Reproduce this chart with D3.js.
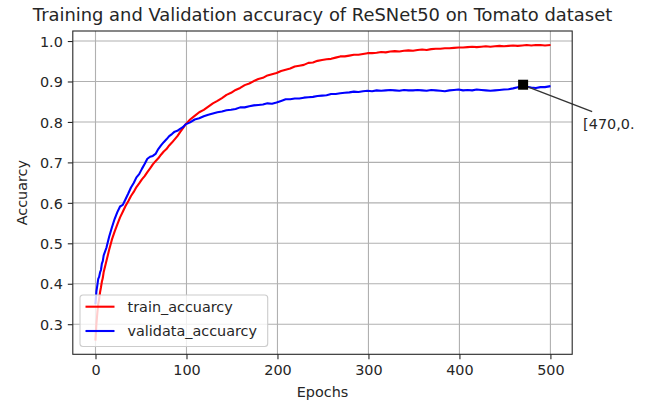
<!DOCTYPE html>
<html>
<head>
<meta charset="utf-8">
<script src="https://cdn.jsdelivr.net/npm/d3@7"></script>
<style>
  html, body { margin: 0; padding: 0; background: #ffffff; }
  svg { display: block; }
</style>
</head>
<body>
<svg class="chart"></svg>
<script>
const FONT_FAMILY = "DejaVu Sans";
const TICK_FONT_SIZE = "14.4px";
const TITLE_FONT_SIZE = "17.9px";
const TEXT_COLOR = "#262626";
const WIDTH = 649;
const HEIGHT = 401;
const AXES_LEFT = 72.8;
const AXES_RIGHT = 572.2;
const AXES_TOP = 31;
const AXES_BOTTOM = 354.3;
const TICK_LENGTH = 5;
const TICK_PAD = 5;

var epochs = [0, 1, 2, 3, 4, 5, 6, 7, 8, 9,
  12, 15, 18, 21, 24, 27, 30, 33, 36, 39, 42, 45, 48, 51, 54, 57, 60, 63, 66, 69,
  72, 75, 78, 81, 84, 87, 90, 93, 96, 99,
  104, 109, 114, 119, 124, 129, 134, 139, 144, 149, 154, 159, 164, 169, 174, 179,
  184, 189, 194, 199, 204, 209, 214, 219, 224, 229, 234, 239, 244, 249, 254, 259,
  264, 269, 274, 279, 284, 289, 294, 299, 304, 309, 314, 319, 324, 329, 334, 339,
  344, 349, 354, 359, 364, 369, 374, 379, 384, 389, 394, 399, 404, 409, 414, 419,
  424, 429, 434, 439, 444, 449, 454, 459, 464, 469, 474, 479, 484, 489, 494, 499];

var trainAccuarcy = [0.262, 0.301, 0.327, 0.350, 0.362, 0.379, 0.391, 0.405, 0.414, 0.429,
  0.456, 0.484, 0.509, 0.529, 0.547, 0.564, 0.578, 0.592, 0.604, 0.617, 0.627, 0.639, 0.648, 0.658, 0.666, 0.676, 0.685, 0.695, 0.703, 0.710,
  0.719, 0.727, 0.733, 0.742, 0.749, 0.757, 0.765, 0.775, 0.784, 0.794,
  0.806, 0.815, 0.824, 0.830, 0.838, 0.846, 0.852, 0.859, 0.867, 0.872, 0.879, 0.884, 0.891, 0.895, 0.901, 0.906,
  0.909, 0.915, 0.918, 0.921, 0.926, 0.929, 0.932, 0.937, 0.939, 0.941, 0.946, 0.947, 0.951, 0.953, 0.955, 0.956,
  0.959, 0.962, 0.962, 0.964, 0.966, 0.966, 0.968, 0.970, 0.970, 0.971, 0.973, 0.972, 0.974, 0.975, 0.974, 0.976,
  0.977, 0.976, 0.978, 0.979, 0.978, 0.980, 0.981, 0.981, 0.982, 0.982, 0.983, 0.984, 0.984, 0.985, 0.986, 0.985,
  0.986, 0.987, 0.986, 0.987, 0.988, 0.987, 0.988, 0.989, 0.988, 0.989, 0.990, 0.989, 0.990, 0.990, 0.989, 0.990];

var validataAccuarcy = [0.352, 0.381, 0.396, 0.412, 0.417, 0.428, 0.434, 0.450, 0.456, 0.470,
  0.489, 0.516, 0.539, 0.560, 0.577, 0.591, 0.595, 0.609, 0.623, 0.638, 0.649, 0.663, 0.671, 0.684, 0.696, 0.709, 0.714, 0.716, 0.721, 0.733,
  0.742, 0.750, 0.757, 0.765, 0.770, 0.776, 0.778, 0.783, 0.787, 0.794,
  0.799, 0.806, 0.809, 0.814, 0.818, 0.821, 0.824, 0.826, 0.829, 0.830, 0.832, 0.836, 0.836, 0.839, 0.841, 0.842,
  0.843, 0.846, 0.845, 0.848, 0.852, 0.856, 0.856, 0.858, 0.858, 0.860, 0.861, 0.862, 0.864, 0.865, 0.866, 0.869,
  0.869, 0.871, 0.872, 0.873, 0.875, 0.874, 0.876, 0.877, 0.876, 0.878, 0.877, 0.878, 0.879, 0.878, 0.877, 0.879,
  0.878, 0.878, 0.879, 0.878, 0.877, 0.879, 0.878, 0.877, 0.876, 0.878, 0.879, 0.880, 0.878, 0.879, 0.878, 0.880,
  0.879, 0.878, 0.877, 0.878, 0.879, 0.880, 0.881, 0.883, 0.886, 0.890, 0.887, 0.885, 0.884, 0.886, 0.886, 0.888];

var xTicks = [0, 100, 200, 300, 400, 500];
var yTicks = [0.3, 0.4, 0.5, 0.6, 0.7, 0.8, 0.9, 1.0];

var seriesNames = ["train_accuarcy", "validata_accuarcy"];
var seriesColors = ["#ff0000", "#0000ff"];

var markedEpoch = 470;
var markedValue = 0.892;
var markedLabel = "[470,0.";

var titleText = "Training and Validation accuracy of ReSNet50 on Tomato dataset";

function drawChart() {
  var chart = d3.select(".chart").attr("width", WIDTH).attr("height", HEIGHT);
  chart.append("rect").attr("width", WIDTH).attr("height", HEIGHT).attr("fill", "#ffffff");

  // matplotlib style 5% margins
  var x = d3.scaleLinear().domain([-24.95, 523.95]).range([AXES_LEFT, AXES_RIGHT]);
  var y = d3.scaleLinear().domain([0.2256, 1.0248]).range([AXES_BOTTOM, AXES_TOP]);

  // Grid
  var grid = chart.append("g");
  grid.selectAll(".vgrid").data(xTicks).enter().append("line")
      .attr("x1", function(d) { return x(d); })
      .attr("x2", function(d) { return x(d); })
      .attr("y1", AXES_TOP).attr("y2", AXES_BOTTOM)
      .attr("stroke", "#b0b0b0").attr("stroke-width", 1.1);
  grid.selectAll(".hgrid").data(yTicks).enter().append("line")
      .attr("x1", AXES_LEFT).attr("x2", AXES_RIGHT)
      .attr("y1", function(d) { return y(d); })
      .attr("y2", function(d) { return y(d); })
      .attr("stroke", "#b0b0b0").attr("stroke-width", 1.1);

  // Lines
  var rows = epochs.map(function(e, i) {
    return { epoch: e, train: trainAccuarcy[i], valid: validataAccuarcy[i] };
  });
  var keys = ["train", "valid"];
  keys.forEach(function(k, i) {
    var line = d3.line()
        .x(function(d) { return x(d.epoch); })
        .y(function(d) { return y(d[k]); });
    chart.append("path")
        .datum(rows)
        .attr("d", line)
        .attr("fill", "none")
        .attr("stroke", seriesColors[i])
        .attr("stroke-width", 2.1)
        .attr("stroke-linejoin", "round")
        .attr("stroke-linecap", "square");
  });

  // Annotation marker + arrow
  var mx = x(markedEpoch), my = y(markedValue);
  chart.append("line")
      .attr("x1", mx + 4).attr("y1", my + 2)
      .attr("x2", mx + 69).attr("y2", my + 27)
      .attr("stroke", "#333333").attr("stroke-width", 1.3);
  chart.append("rect")
      .attr("x", mx - 5).attr("y", my - 5)
      .attr("width", 10).attr("height", 10)
      .attr("fill", "#000000");
  chart.append("text")
      .attr("x", mx + 60).attr("y", my + 44)
      .attr("font-family", FONT_FAMILY).attr("font-size", TICK_FONT_SIZE)
      .attr("fill", TEXT_COLOR)
      .text(markedLabel);

  // Spines
  chart.append("rect")
      .attr("x", AXES_LEFT).attr("y", AXES_TOP)
      .attr("width", AXES_RIGHT - AXES_LEFT).attr("height", AXES_BOTTOM - AXES_TOP)
      .attr("fill", "none").attr("stroke", "#262626").attr("stroke-width", 1.1);

  // X axis
  var xAxis = d3.axisBottom(x).tickValues(xTicks).tickSize(TICK_LENGTH).tickPadding(TICK_PAD)
      .tickFormat(d3.format("d"));
  var gx = chart.append("g").attr("transform", "translate(0," + AXES_BOTTOM + ")").call(xAxis);
  gx.select(".domain").remove();
  gx.selectAll("line").attr("stroke", "#262626").attr("stroke-width", 1.1);
  gx.selectAll("text").attr("font-family", FONT_FAMILY).attr("font-size", TICK_FONT_SIZE)
      .attr("fill", TEXT_COLOR).attr("dy", "0.76em");

  // Y axis
  var yAxis = d3.axisLeft(y).tickValues(yTicks).tickSize(TICK_LENGTH).tickPadding(TICK_PAD)
      .tickFormat(d3.format(".1f"));
  var gy = chart.append("g").attr("transform", "translate(" + AXES_LEFT + ",0)").call(yAxis);
  gy.select(".domain").remove();
  gy.selectAll("line").attr("stroke", "#262626").attr("stroke-width", 1.1);
  gy.selectAll("text").attr("font-family", FONT_FAMILY).attr("font-size", TICK_FONT_SIZE)
      .attr("fill", TEXT_COLOR).attr("dy", "0.36em");

  // Labels
  var cx = (AXES_LEFT + AXES_RIGHT) / 2;
  chart.append("text")
      .attr("x", cx).attr("y", 396.5)
      .attr("text-anchor", "middle")
      .attr("font-family", FONT_FAMILY).attr("font-size", TICK_FONT_SIZE)
      .attr("fill", TEXT_COLOR)
      .text("Epochs");
  chart.append("text")
      .attr("transform", "translate(27," + ((AXES_TOP + AXES_BOTTOM) / 2) + ") rotate(-90)")
      .attr("text-anchor", "middle")
      .attr("font-family", FONT_FAMILY).attr("font-size", TICK_FONT_SIZE)
      .attr("fill", TEXT_COLOR)
      .text("Accuarcy");
  chart.append("text")
      .attr("x", cx).attr("y", 20.7)
      .attr("text-anchor", "middle")
      .attr("font-family", FONT_FAMILY).attr("font-size", TITLE_FONT_SIZE)
      .attr("fill", TEXT_COLOR)
      .text(titleText);

  // Legend (lower left)
  var legend = chart.append("g").attr("transform", "translate(80,295)");
  legend.append("rect")
      .attr("width", 187.7).attr("height", 51.5)
      .attr("rx", 3).attr("ry", 3)
      .attr("fill", "#ffffff").attr("fill-opacity", 0.8)
      .attr("stroke", "#cccccc").attr("stroke-width", 1.1);
  var item = legend.selectAll(".item").data(seriesNames).enter().append("g")
      .attr("transform", function(d, i) { return "translate(0," + (11.7 + i * 24.3) + ")"; });
  item.append("line")
      .attr("x1", 5.5).attr("x2", 34.5)
      .attr("stroke", function(d, i) { return seriesColors[i]; })
      .attr("stroke-width", 2.1);
  item.append("text")
      .attr("x", 47.5).attr("dy", "0.36em")
      .attr("font-family", FONT_FAMILY).attr("font-size", TICK_FONT_SIZE)
      .attr("fill", TEXT_COLOR)
      .text(function(d) { return d; });
}

drawChart();
</script>
</body>
</html>
